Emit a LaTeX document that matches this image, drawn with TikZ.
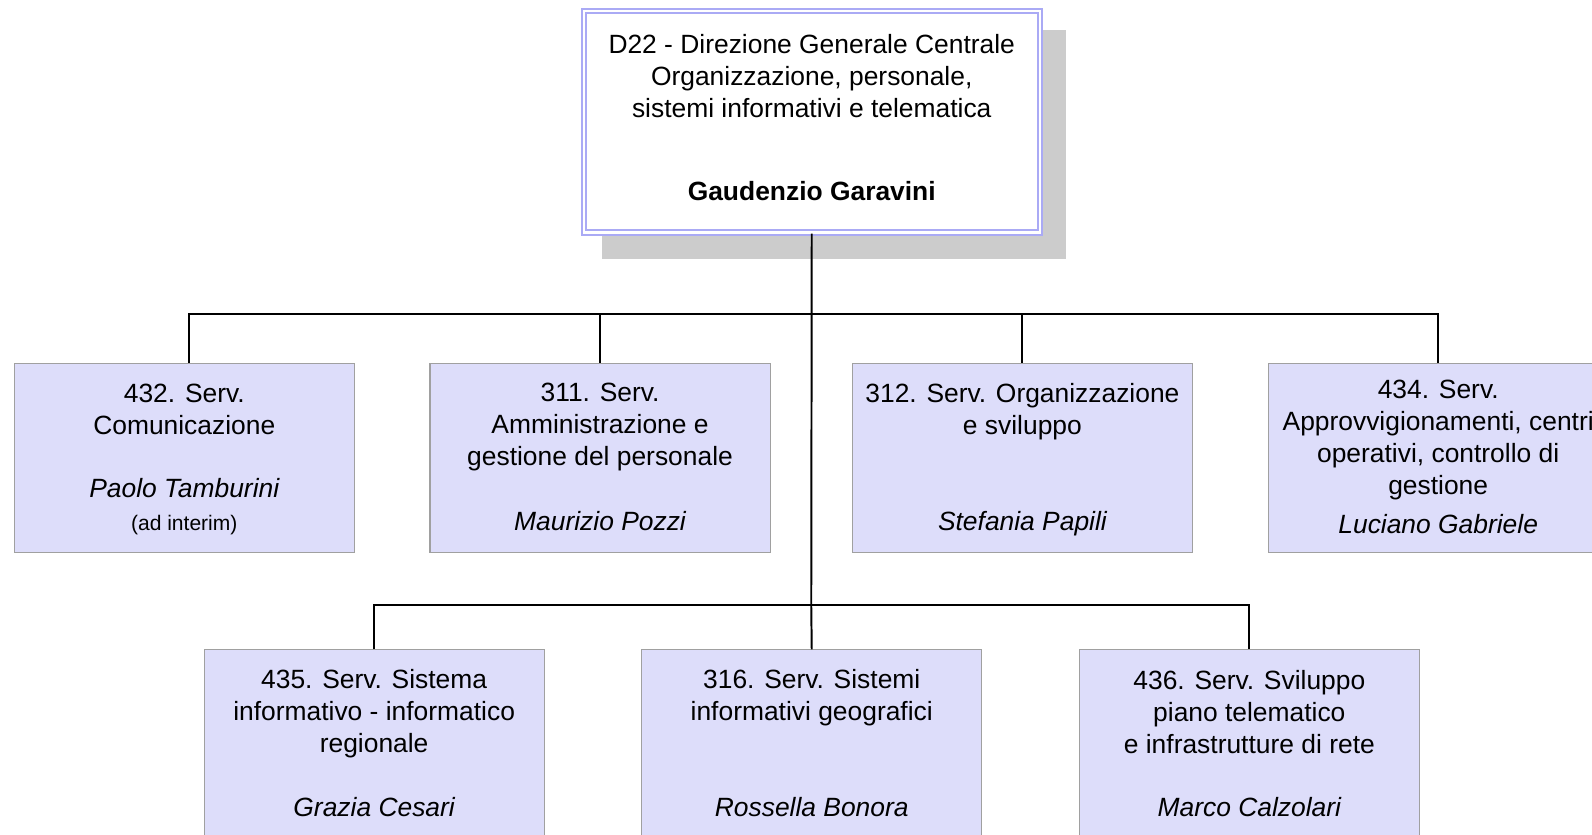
\documentclass[tikz,border=0pt]{standalone}
\usepackage{fontspec}
\setmainfont{Liberation Sans}
\usetikzlibrary{calc}

\definecolor{lavender}{RGB}{170,170,245}
\definecolor{unitfill}{RGB}{221,221,250}
\definecolor{unitedge}{RGB}{160,160,160}
\definecolor{shadowgray}{RGB}{204,204,204}

\begin{document}
\begin{tikzpicture}[x=0.02cm, y=-0.02cm,
		head/.style={draw=lavender, double=white, line width=0.04cm, double distance=0.04cm, fill=white, minimum width=8.98cm, minimum height=4.36cm, inner sep=0pt},
		unit/.style={draw=unitedge, line width=0.6pt, fill=unitfill, minimum width=6.7cm, minimum height=3.72cm, inner sep=0pt},
		title/.style={align=center, inner sep=0pt, font=\fontsize{14.8}{17.9}\selectfont},
		boss/.style={inner sep=0pt, font=\fontsize{14.8}{17.9}\selectfont\itshape},
		note/.style={inner sep=0pt, font=\fontsize{11.8}{14}\selectfont},
		link/.style={line width=1.1pt}]
		
		%page frame
		\useasboundingbox (0,0) rectangle (1568,822.4);
		\clip (0,0) rectangle (1568,822.4);
		
		%bus lines
		\coordinate (bus1) at (799,309);
		\coordinate (bus2) at (799,596);
		
		%head of the direction
		\fill [shadowgray] (593,30) rectangle (1050,255);
		\node [head] (head) at (799.5,120) {};
		\node [title] (head-t) at (799.5,75) {D22 - Direzione Generale Centrale\\Organizzazione, personale,\\sistemi informativi e telematica};
		\node [title, font=\fontsize{14.8}{17.9}\selectfont\bfseries] (head-n) at (799.5,188) {Gaudenzio Garavini};
		
		%first row of services
		\node [unit] (s432) at (181.5,451) {};
		\node [title] (s432-t) at (181.5,403) {432. Serv.\\Comunicazione};
		\node [boss] (s432-n) at (181.5,481) {Paolo Tamburini};
		\node [note] (s432-x) at (181.5,517) {(ad interim)};
		
		\node [unit] (s311) at (591,451) {};
		\node [title] (s311-t) at (591,420.5) {311. Serv.\\Amministrazione e\\gestione del personale};
		\node [boss] (s311-n) at (591,513) {Maurizio Pozzi};
		
		\node [unit] (s312) at (1007,451) {};
		\node [title] (s312-t) at (1007,405) {312. Serv. Organizzazione\\e sviluppo};
		\node [boss] (s312-n) at (1007,516) {Stefania Papili};
		
		\node [unit] (s434) at (1416.5,451) {};
		\node [title] (s434-t) at (1416.5,433) {434. Serv.\\Approvvigionamenti, centri\\operativi, controllo di\\gestione};
		\node [boss] (s434-n) at (1416.5,516) {Luciano Gabriele};
		
		%second row of services
		\node [unit] (s435) at (368.5,733) {};
		\node [title] (s435-t) at (368.5,703) {435. Serv. Sistema\\informativo - informatico\\regionale};
		\node [boss] (s435-n) at (368.5,795) {Grazia Cesari};
		
		\node [unit] (s316) at (799.5,733) {};
		\node [title] (s316-t) at (799.5,687.5) {316. Serv. Sistemi\\informativi geografici};
		\node [boss] (s316-n) at (799.5,795) {Rossella Bonora};
		
		\node [unit] (s436) at (1230.5,733) {};
		\node [title] (s436-t) at (1230.5,701) {436. Serv. Sviluppo\\piano telematico\\e infrastrutture di rete};
		\node [boss] (s436-n) at (1230.5,795) {Marco Calzolari};
		
		%connectors
		\draw [link] (head.south) -- (bus2);
		\draw [link] ($(s432.north)+(4.5,0)$) |- (bus1) -| (s434.north);
		\draw [link] (s311.north) -- (s311.north |- bus1);
		\draw [link] (s312.north) -- (s312.north |- bus1);
		\draw [link] (s435.north) |- (bus2) -| (s436.north);
		\draw [link] (bus2) -- (s316.north);
	\end{tikzpicture}
\end{document}
